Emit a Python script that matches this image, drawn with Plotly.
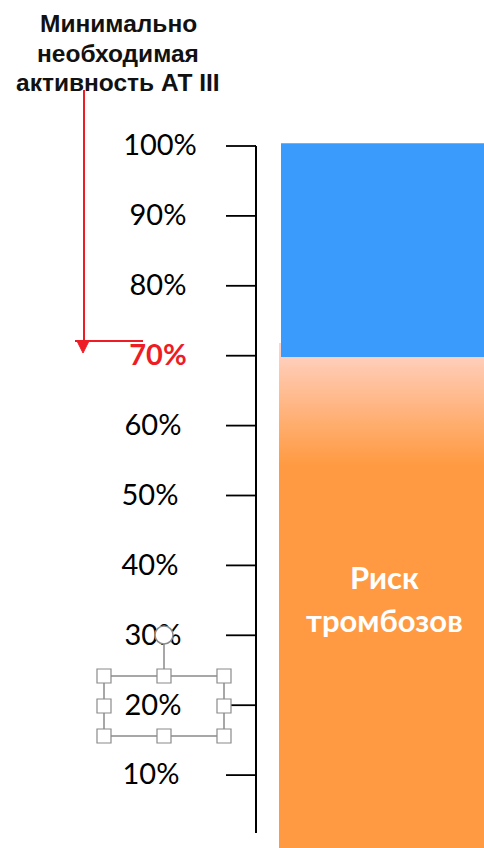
import plotly.graph_objects as go

# ---------------- data ----------------
tick_values = [100, 90, 80, 70, 60, 50, 40, 30, 20, 10]
tick_labels = ["100%", "90%", "80%", "70%", "60%", "50%", "40%", "30%", "20%", "10%"]
threshold_value = 70          # minimal required AT III activity
threshold_label = "70%"
safe_range = [70, 100]        # blue zone
risk_range = [0, 70]          # orange zone (risk of thrombosis)
risk_text_lines = ["Риск", "тромбозов"]
title_lines = ["Минимально", "необходимая", "активность АТ III"]

# ---------------- layout constants ----------------
W, H = 484, 848
PX_TOP100, PX_PER_UNIT = 146.0, 6.99     # pixel of 100% and pixels per 1%
def v(px):  # pixel row -> axis value
    return 100 - (px - PX_TOP100) / PX_PER_UNIT

Y_MIN, Y_MAX = v(H), v(0)
AXIS_X, TICK_X0 = 256, 226
BAR_X0, BAR_X1 = 281, 486
RISK_X0 = 279
LABEL_SHIFT = -0.3   # small downward nudge of tick labels (axis units)
label_x = {100: 160, 90: 158, 80: 158, 70: 158, 60: 153, 50: 150, 40: 150, 30: 153, 20: 153, 10: 151}

BLUE = "#3B9BFD"
ORANGE = "#FF9A42"
PINK = "#FFD5CB"
RED = "#EE1C25"

fig = go.Figure()

# orange zone with gradient on top
risk_top = v(343)
fig.add_trace(go.Scatter(
    x=[RISK_X0, BAR_X1, BAR_X1, RISK_X0, RISK_X0],
    y=[Y_MIN, Y_MIN, risk_top, risk_top, Y_MIN],
    mode="lines", line=dict(width=0), fill="toself",
    fillgradient=dict(type="vertical",
                      colorscale=[[0, ORANGE], [0.35, "#FFAE70"], [1, PINK]],
                      start=v(465), stop=risk_top),
    hoverinfo="skip", showlegend=False))

# blue zone (drawn over the orange zone)
b0, b1 = safe_range[0] - 0.2, safe_range[1] + 0.4
fig.add_trace(go.Scatter(
    x=[BAR_X0, BAR_X1, BAR_X1, BAR_X0, BAR_X0], y=[b0, b0, b1, b1, b0],
    mode="lines", line=dict(width=0), fill="toself", fillcolor=BLUE,
    hoverinfo="skip", showlegend=False))

# axis line
fig.add_trace(go.Scatter(x=[AXIS_X, AXIS_X], y=[tick_values[0], v(833)], mode="lines",
                         line=dict(color="black", width=2), hoverinfo="skip", showlegend=False))
# ticks
tx, ty = [], []
for t in tick_values:
    tx += [TICK_X0, AXIS_X, None]
    ty += [t, t, None]
fig.add_trace(go.Scatter(x=tx, y=ty, mode="lines", line=dict(color="black", width=1.8),
                         hoverinfo="skip", showlegend=False))

# tick labels
normal = [(t, l) for t, l in zip(tick_values, tick_labels) if t != threshold_value]
fig.add_trace(go.Scatter(
    x=[label_x[t] for t, _ in normal], y=[t + LABEL_SHIFT for t, _ in normal],
    text=[l for _, l in normal], mode="text", textposition="middle center",
    textfont=dict(family="Lato", size=29, color="black"),
    hoverinfo="skip", showlegend=False))
fig.add_trace(go.Scatter(
    x=[label_x[threshold_value]], y=[threshold_value + LABEL_SHIFT], text=[threshold_label],
    mode="text", textposition="middle center",
    textfont=dict(family="Lato", size=29, color=RED, weight="bold"),
    hoverinfo="skip", showlegend=False))

# red arrow (title -> threshold)
arrow_y = v(341)
fig.add_trace(go.Scatter(x=[84, 84], y=[v(90), arrow_y], mode="lines",
                         line=dict(color=RED, width=2), hoverinfo="skip", showlegend=False))
fig.add_trace(go.Scatter(x=[75, 143], y=[arrow_y, arrow_y], mode="lines",
                         line=dict(color=RED, width=2), hoverinfo="skip", showlegend=False))
fig.add_trace(go.Scatter(x=[77, 89, 83, 77], y=[arrow_y, arrow_y, v(353), arrow_y],
                         mode="lines", fill="toself", fillcolor=RED,
                         line=dict(color=RED, width=1), hoverinfo="skip", showlegend=False))

annotations = []
for line_txt, py in zip(title_lines, [23, 53, 82]):
    annotations.append(dict(x=118, y=v(py), xref="x", yref="y", text=line_txt,
                            showarrow=False,
                            font=dict(family="Liberation Sans", size=24.5, color="#111111", weight="bold"),
                            xanchor="center", yanchor="middle"))
for line_txt, py in zip(risk_text_lines, [577, 620]):
    annotations.append(dict(x=384, y=v(py), xref="x", yref="y", text=line_txt, showarrow=False,
                            font=dict(family="Lato", size=31, color="white", weight="bold"),
                            xanchor="center", yanchor="middle"))

# selection-box artefact around "20%"
GREY = "#8A8A8A"
shapes = []
def L(x0, y0, x1, y1):
    shapes.append(dict(type="line", xref="x", yref="y", x0=x0, y0=v(y0), x1=x1, y1=v(y1),
                       line=dict(color=GREY, width=1.5)))
L(104, 676, 224, 676); L(104, 736, 224, 736); L(104, 676, 104, 736); L(224, 676, 224, 736)
L(164, 644, 164, 676)
shapes.append(dict(type="circle", xref="x", yref="y", x0=155, x1=173, y0=v(626), y1=v(644),
                   line=dict(color=GREY, width=1.5), fillcolor="white"))
shapes.append(dict(type="path", xref="x", yref="y",
                   path=f"M 168.5 {v(632)} A 5 5 0 1 0 168.5 {v(639)}", line=dict(color=GREY, width=2)))
for hx, hy in [(104, 676), (164, 676), (224, 676), (104, 706), (224, 706),
               (104, 736), (164, 736), (224, 736)]:
    shapes.append(dict(type="rect", xref="x", yref="y", x0=hx - 7, x1=hx + 7, y0=v(hy - 7), y1=v(hy + 7),
                       line=dict(color=GREY, width=1.2), fillcolor="white"))

fig.update_layout(
    width=W, height=H, autosize=False,
    margin=dict(l=0, r=0, t=0, b=0),
    paper_bgcolor="white", plot_bgcolor="white",
    xaxis=dict(range=[0, W], visible=False, fixedrange=True),
    yaxis=dict(range=[Y_MIN, Y_MAX], visible=False, fixedrange=True),
    annotations=annotations, shapes=shapes, showlegend=False,
)
fig.write_html("out.html")
